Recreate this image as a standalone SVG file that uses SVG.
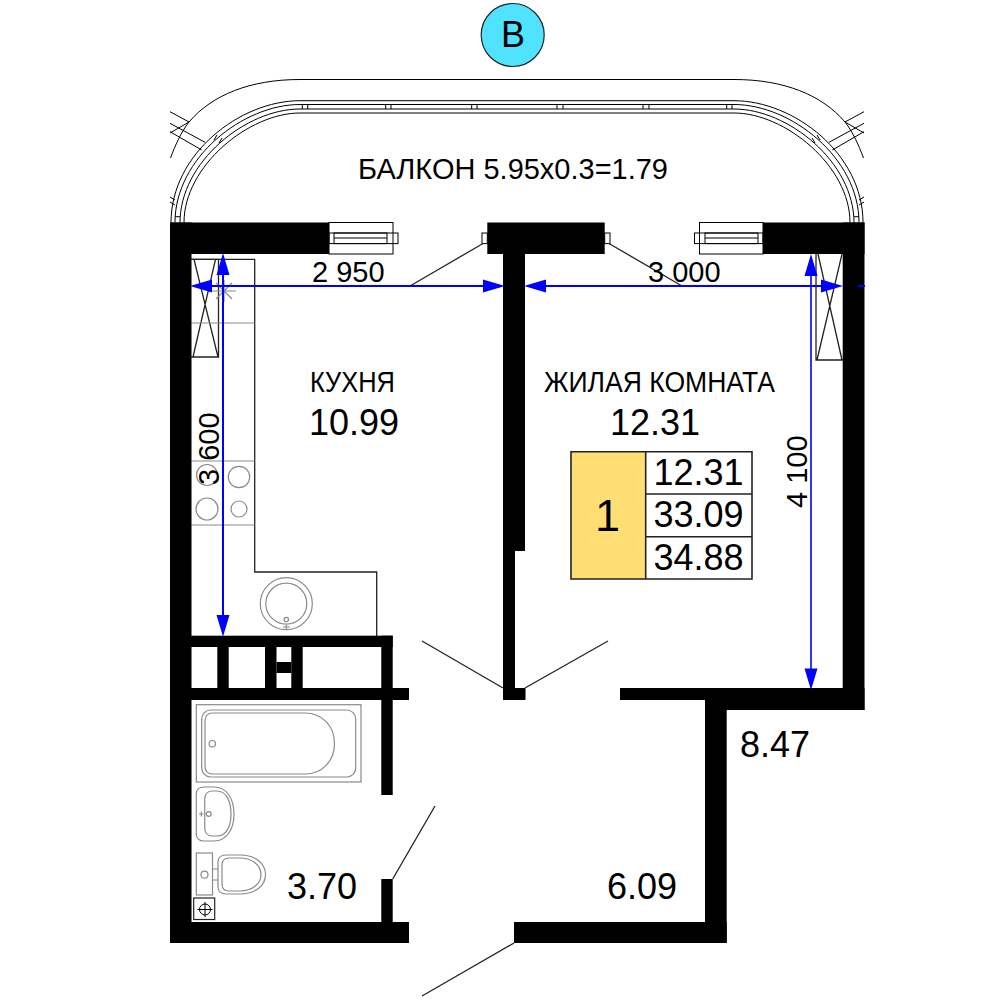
<svg xmlns="http://www.w3.org/2000/svg" width="1000" height="1000" viewBox="0 0 1000 1000">
<style>
text{font-family:"Liberation Sans",Arial,sans-serif;fill:#000}
.w{fill:#000}
.k{fill:none;stroke:#000;stroke-width:1}
.k2{fill:none;stroke:#222;stroke-width:1.3}
.g{fill:none;stroke:#8a8a8a;stroke-width:1.2}
.b{stroke:#0000ff;stroke-width:2;fill:none}
.h{fill:#0000ff}
.t28{font-size:29px}.t35{font-size:36px}
</style>
<rect width="1000" height="1000" fill="#fff"/>
<g id="axis-b">
<circle cx="512.7" cy="35" r="31.5" fill="#4fe3ff" stroke="#222" stroke-width="1.2"/>
<text x="513" y="47" font-size="36" text-anchor="middle">B</text>
</g>
<g id="balcony" class="k">
<path d="M300 79.5H734M300 79.5C250 79.5 212 95 189 122C181 132 175 146 170.5 158M734 79.5C784 79.5 822 95 845 122C853 132 859 146 863.5 158"/>
<path d="M171 222.5C171 154 240 100.7 300 100.7H734C794 100.7 863 154 863 222.5"/>
<path d="M175 222.5C175 158 243 104.5 300 104.5H734C791 104.5 859 158 859 222.5"/>
<path d="M180 222.5C180 162 246 109 300 109H734C788 109 854 162 854 222.5"/>
<path d="M184 222.5C184 166 249 113 300 113H734C785 113 850 166 850 222.5"/>
<path d="M302.3 104.5V109M307.7 104.5V109M385.7 104.5V109M391 104.5V109M471.7 104.5V109M477 104.5V109M557 104.5V109M563 104.5V109M643 104.5V109M649 104.5V109M726.7 104.5V109M732 104.5V109"/>
<path d="M217 135L214 140M222 138L219 143M817 135L820 140M812 138L815 143"/>
<path d="M175 216.700H180M854 216.700H859"/>
<path d="M170 111.700L189 122L170 133M170 123.300L205 142.300M170 131.700L201.700 150M864 111.700L845 122L864 133M864 123.300L829 142.300M864 131.700L832.300 150"/>
<path d="M170 197L175 200M170 202L175 205M864 197L859 200M864 202L859 205"/>
</g>
<g id="furniture-kitchen">
<path class="k2" d="M191 259.300H254.700V572H376.700V636"/>
<path class="k2" d="M191 259.300H218.500V357H191M194 259.300L218 357M215.500 259.300L193 357"/>
<path class="k2" d="M816 254V360H843M818 254L842 360M842 254L817 360"/>
<path class="g" d="M191 323H254.700M191 461H254.700M191 525H254.700M212 291H236M224 280V302M216 283L232 299M232 283L216 299"/>
<circle class="g" cx="207" cy="475" r="10.500"/>
<circle class="g" cx="239" cy="477" r="10.700"/>
<circle class="g" cx="207" cy="509" r="11"/>
<circle class="g" cx="239" cy="509" r="8"/>
<circle class="g" cx="286.300" cy="603.700" r="26"/>
<circle class="g" cx="286.300" cy="603.700" r="20.500"/>
<circle class="g" cx="286.300" cy="619.500" r="2.200"/>
<path class="g" d="M283 627H290M286.300 625V629"/>
</g>
<g id="furniture-bath">
<rect class="g" x="196.300" y="704.700" width="164.700" height="77.300"/>
<rect class="g" x="201.700" y="710" width="154" height="67" rx="9"/>
<path class="g" d="M213 713H305C322 713 334.500 726 334.500 743.500C334.500 761 322 774 305 774H213C208 774 205 771 205 766V721C205 716 208 713 213 713Z"/>
<circle class="g" cx="212.300" cy="743.700" r="3.200"/>
<path class="g" d="M204 787H214C226 787 234 798 234 814C234 830 226 841 214 841H204C199 841 196.300 838 196.300 834V794C196.300 790 199 787 204 787Z"/>
<path class="g" d="M212 791H217C226 791 231 801 231 814C231 827 226 836 217 836H212C207 836 204.700 832 204.700 828V799C204.700 795 207 791 212 791Z"/>
<circle class="g" cx="208.700" cy="814" r="2.400"/>
<path class="g" d="M199 814H203.500M201.300 811.500V816.500"/>
<rect class="g" x="196.300" y="853" width="16.200" height="42"/>
<circle class="g" cx="204.500" cy="874.700" r="3.500"/>
<path class="g" d="M212.500 869H218M212.500 880H218"/>
<path class="g" d="M226 855H240C255 855 265.500 863 265.500 874.500C265.500 886 255 894 240 894H226C221 894 218 891 218 887V862C218 858 221 855 226 855Z"/>
<path class="g" d="M229 858H240C252 858 261 865 261 874.500C261 884 252 891 240 891H229C224 891 222 888 222 884V865C222 861 224 858 229 858Z"/>
<rect x="193.700" y="898" width="21" height="21.500" fill="none" stroke="#222" stroke-width="1.200"/>
<circle class="k" cx="205" cy="909.500" r="5.500"/>
<path class="k" d="M197.500 909.500H212.500M205 902V917"/>
</g>
<g id="windows" class="k">
<rect x="329" y="222.500" width="64" height="31.500"/>
<rect x="329" y="233" width="69" height="10.600"/>
<rect x="334" y="233" width="53" height="10.600"/>
<path d="M334 238H387"/>
<rect x="699.500" y="222.500" width="63.500" height="31.500"/>
<rect x="694.500" y="233" width="68.500" height="10.600"/>
<rect x="705" y="233" width="53" height="10.600"/>
<path d="M705 238H758"/>
<rect x="482" y="233" width="5.300" height="10.600"/>
<rect x="604.700" y="233" width="5.300" height="10.600"/>
</g>
<g id="walls" class="w">
<rect x="170" y="222.500" width="159" height="31.500"/>
<rect x="487.300" y="222.500" width="117.400" height="31.500"/>
<rect x="763" y="222.500" width="101.500" height="31.500"/>
<rect x="170" y="222.500" width="21.500" height="720.500"/>
<rect x="503" y="254" width="22" height="297"/>
<rect x="503" y="551" width="12" height="137"/>
<rect x="503" y="688" width="22.500" height="12"/>
<rect x="842.700" y="222.500" width="21.800" height="487.500"/>
<rect x="620" y="688" width="85" height="12"/>
<rect x="705" y="688" width="159.500" height="22"/>
<rect x="705" y="688" width="21.700" height="255"/>
<rect x="514" y="922" width="212.700" height="21"/>
<rect x="170" y="922" width="239" height="21"/>
<rect x="191" y="635.700" width="201.700" height="11.300"/>
<rect x="170" y="688" width="239" height="12"/>
<rect x="381.300" y="635.700" width="11.400" height="159.300"/>
<rect x="381.300" y="879" width="11.400" height="43"/>
<rect x="217.300" y="647" width="11.400" height="41"/>
<rect x="265" y="647" width="11.500" height="41"/>
<rect x="291.300" y="647" width="11.400" height="41"/>
<rect x="276.500" y="662" width="14.800" height="11"/>
</g>
<g id="doors" class="k2">
<path d="M422 641L503 688M525 688L608 641M392.700 879L435 806M514 943L422 996M483 243.500L410 286M609 243.500L682 286"/>
</g>
<g id="labels">
<text class="t28" x="358" y="179" textLength="310" lengthAdjust="spacingAndGlyphs">БАЛКОН 5.95x0.3=1.79</text>
<text class="t28" x="312" y="282">2 950</text>
<text class="t28" x="648" y="282">3 000</text>
<text class="t28" x="310" y="392" textLength="85" lengthAdjust="spacingAndGlyphs">КУХНЯ</text>
<text class="t35" x="309" y="435">10.99</text>
<text class="t28" x="544" y="392" textLength="231" lengthAdjust="spacingAndGlyphs">ЖИЛАЯ КОМНАТА</text>
<text class="t35" x="610" y="435">12.31</text>
<text class="t35" x="287" y="899">3.70</text>
<text class="t35" x="607" y="899">6.09</text>
<text class="t35" x="740" y="757">8.47</text>
<text class="t28" transform="translate(219 485) rotate(-90)">3 600</text>
<text class="t28" transform="translate(806.500 508) rotate(-90)">4 100</text>
</g>
<g id="dimensions">
<path class="b" d="M205 286H490M535 286H830M858 286H865M223 265V625"/>
<path class="b" d="M811 265V680" style="stroke-width:1.600"/>
<path class="h" d="M190 286L212 279.500V292.500ZM505 286L483 279.500V292.500ZM524 286L546 279.500V292.500ZM843 286L821 279.500V292.500ZM223 253L216.500 275H229.500ZM223 636.700L216.500 615H229.500ZM811 254L804.500 276H817.500ZM811 690L804.500 668.500H817.500Z"/>
</g>
<g id="summary-table">
<rect x="571" y="451.700" width="75" height="127.300" fill="#ffdf73"/>
<rect x="645.700" y="451.700" width="106.300" height="127.300" fill="#fff"/>
<path d="M571 451.700H752V579H571ZM645.700 451.700V579M645.700 494H752M645.700 536.700H752" fill="none" stroke="#222" stroke-width="1.600"/>
<text x="607.500" y="531" font-size="45" text-anchor="middle">1</text>
<text class="t35" x="698.500" y="484.500" text-anchor="middle">12.31</text>
<text class="t35" x="698.500" y="527" text-anchor="middle">33.09</text>
<text class="t35" x="698.500" y="569.500" text-anchor="middle">34.88</text>
</g>
</svg>
